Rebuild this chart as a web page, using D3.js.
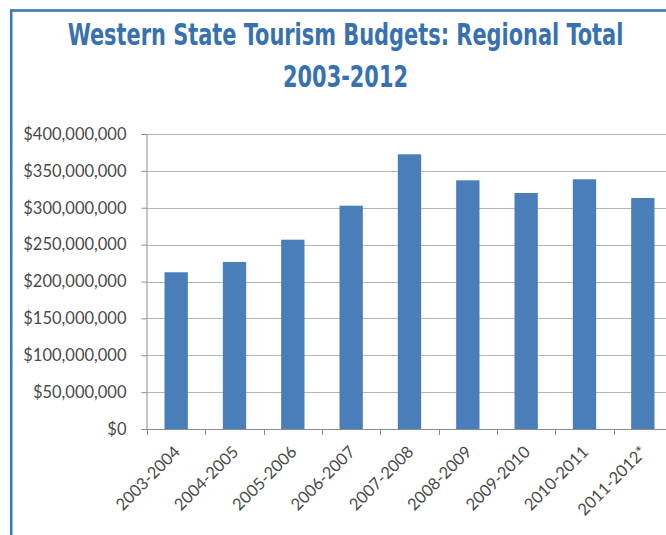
<!DOCTYPE html>
<html>
<head>
<meta charset="utf-8">
<script src="https://cdn.jsdelivr.net/npm/d3@7"></script>
<style>
  html, body { margin: 0; padding: 0; background: #ffffff; overflow: hidden; }
  svg { display: block; }
</style>
</head>
<body>
<svg id="chart" width="666" height="535"></svg>
<script>
// Fiscal-year categories and regional budget totals (US dollars)
const categories = ["2003-2004", "2004-2005", "2005-2006", "2006-2007", "2007-2008",
                    "2008-2009", "2009-2010", "2010-2011", "2011-2012*"];
const budgets = [212500000, 226400000, 256700000, 302800000, 372500000,
                 337200000, 320000000, 338600000, 313200000];
const yTicks = [0, 50000000, 100000000, 150000000, 200000000,
                250000000, 300000000, 350000000, 400000000];
const titleLines = ["Western State Tourism Budgets: Regional Total", "2003-2012"];

const svg = d3.select("#chart");
const W = 666, H = 535;
const plot = { left: 147, right: 672, top: 134, bottom: 429 };

const barColor = "#4a7ebb";
const gridColor = "#b4b4b4";
const axisColor = "#8c8c8c";
const textColor = "#4a4a4a";
const titleColor = "#3871b0";

// Frame around the panel (runs off the right and bottom edges)
svg.append("rect")
  .attr("x", 11.2).attr("y", 10.5)
  .attr("width", W + 20).attr("height", H + 20)
  .attr("fill", "none")
  .attr("stroke", "#3b78b8")
  .attr("stroke-width", 2.6);

// Title: condensed bold lines, squeezed horizontally to their set widths
const titleWidths = [556, 125];
const titleBaselines = [45, 86.5];
const titleCx = 345.5;
const title = svg.append("g")
  .attr("font-family", "'DejaVu Sans Condensed', 'Liberation Sans Narrow', sans-serif")
  .attr("font-weight", "bold").attr("fill", titleColor).attr("text-anchor", "middle");
title.selectAll("text").data(titleLines).join("text")
  .attr("font-size", 30)
  .text(d => d)
  .each(function (d, i) {
    const natural = this.getComputedTextLength();
    const sx = titleWidths[i] / natural;
    d3.select(this).attr("transform", `translate(${titleCx},${titleBaselines[i]}) scale(${sx},1)`);
  });

// Scales
const x = d3.scaleBand()
  .domain(categories)
  .range([plot.left, plot.right])
  .paddingInner(0.6)
  .paddingOuter(0.3);

const y = d3.scaleLinear()
  .domain([0, 400000000])
  .range([plot.bottom, plot.top]);

// Horizontal gridlines
svg.append("g")
  .selectAll("line")
  .data(yTicks.filter(d => d > 0))
  .join("line")
  .attr("x1", plot.left).attr("x2", plot.right)
  .attr("y1", d => Math.round(y(d)) + 0.5)
  .attr("y2", d => Math.round(y(d)) + 0.5)
  .attr("stroke", gridColor)
  .attr("stroke-width", 1);

// Bars
svg.append("g")
  .selectAll("rect")
  .data(budgets)
  .join("rect")
  .attr("x", (d, i) => x(categories[i]))
  .attr("width", x.bandwidth())
  .attr("y", d => y(d))
  .attr("height", d => y(0) - y(d))
  .attr("fill", barColor);

// Y axis
const fmt = d3.format("$,");
const yAxis = svg.append("g")
  .attr("transform", `translate(${plot.left - 0.5},0)`)
  .call(d3.axisLeft(y).tickValues(yTicks).tickFormat(fmt).tickSize(5).tickPadding(15));
yAxis.select(".domain").attr("stroke", axisColor);
yAxis.selectAll(".tick line").attr("stroke", axisColor);
yAxis.selectAll(".tick text")
  .attr("font-family", "Lato, 'Open Sans', sans-serif")
  .attr("font-size", 16.5)
  .attr("fill", textColor);

// X axis baseline with tick marks at category boundaries
const step = x.step();
const boundaries = d3.range(categories.length + 1).map(i => plot.left + i * step);
const xAxis = svg.append("g");
xAxis.append("line")
  .attr("x1", plot.left - 5).attr("x2", plot.right)
  .attr("y1", plot.bottom + 0.5).attr("y2", plot.bottom + 0.5)
  .attr("stroke", axisColor);
xAxis.selectAll("line.tick")
  .data(boundaries)
  .join("line")
  .attr("class", "tick")
  .attr("x1", d => Math.round(d) + 0.5).attr("x2", d => Math.round(d) + 0.5)
  .attr("y1", plot.bottom).attr("y2", plot.bottom + 6)
  .attr("stroke", axisColor);

// Rotated category labels
xAxis.selectAll("text")
  .data(categories)
  .join("text")
  .attr("transform", d => `translate(${x(d) + x.bandwidth() / 2 + 5},${plot.bottom + 24}) rotate(-45)`)
  .attr("text-anchor", "end")
  .attr("font-family", "Lato, 'Open Sans', sans-serif")
  .attr("font-size", 16.5)
  .attr("fill", textColor)
  .text(d => d);
</script>
</body>
</html>
